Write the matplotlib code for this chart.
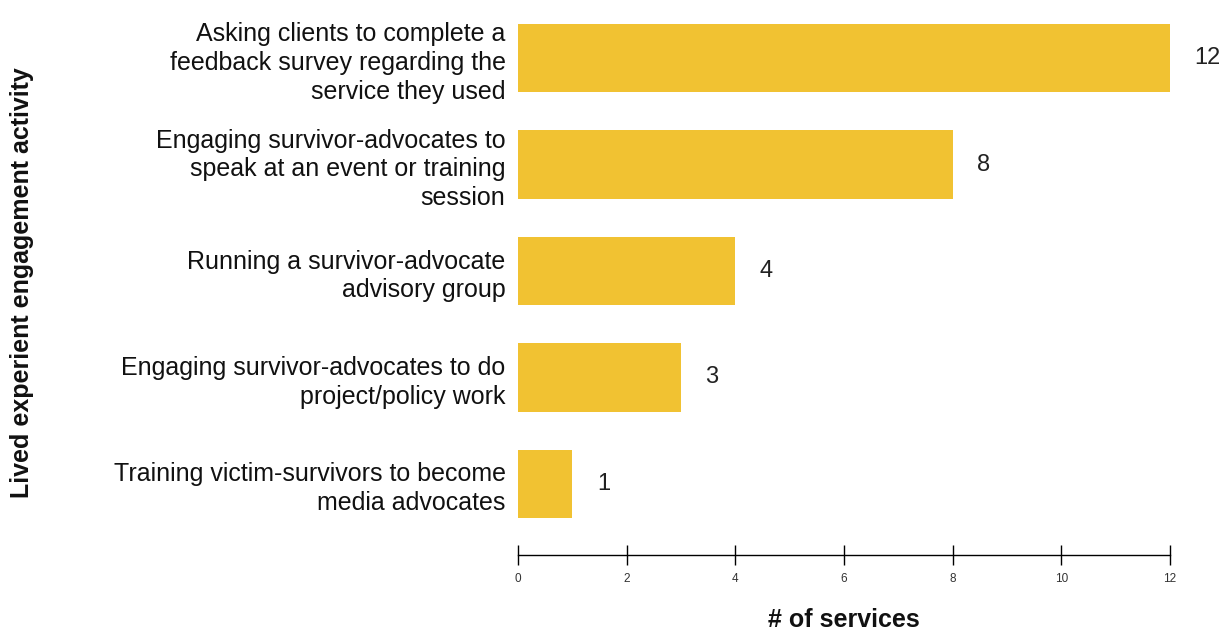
import matplotlib
matplotlib.use("Agg")
import matplotlib.pyplot as plt
import numpy as np

plt.rcParams['font.family'] = ['Liberation Sans', 'DejaVu Sans']

activities = [
    "Asking clients to complete a\nfeedback survey regarding the\nservice they used",
    "Engaging survivor-advocates to\nspeak at an event or training\nsession",
    "Running a survivor-advocate\nadvisory group",
    "Engaging survivor-advocates to do\nproject/policy work",
    "Training victim-survivors to become\nmedia advocates",
]
services = [12, 8, 4, 3, 1]
x_ticks = [0, 2, 4, 6, 8, 10, 12]

BAR_COLOR = '#F1C232'

fig = plt.figure(figsize=(12.23, 6.30), dpi=100)
ax = fig.add_axes([518 / 1223, 75 / 630, 652 / 1223, 555 / 630])

y = np.arange(len(activities))
ax.barh(y, services, height=0.64, color=BAR_COLOR)

for yi, v in zip(y, services):
    ax.text(v + 0.45, yi, str(v), va='center', ha='left', fontsize=17, color='#222222')

ax.set_xlim(0, 12)
ax.set_ylim(4.667, -0.545)
ax.set_yticks(y)
ax.set_yticklabels(activities, fontsize=18, linespacing=1.26, color='#111111')
ax.tick_params(axis='y', length=0, pad=9)

ax.set_xticks(x_ticks)
ax.set_xticklabels([str(t) for t in x_ticks], fontsize=8.5, color='#333333',
                   family=['Liberation Sans Narrow', 'Liberation Sans'])
ax.tick_params(axis='x', direction='inout', length=14, width=1, pad=6)

for s in ['top', 'right', 'left']:
    ax.spines[s].set_visible(False)
ax.spines['bottom'].set_linewidth(1)

fig.text(844 / 1223, 1 - 620 / 630, "# of services", ha='center', va='center',
         fontsize=18, fontweight='bold', color='#111111')
fig.text(22 / 1223, 1 - 283 / 630, "Lived experient engagement activity", rotation=90,
         ha='center', va='center', fontsize=18, fontweight='bold', color='#111111')

fig.savefig("out.png", dpi=100)
